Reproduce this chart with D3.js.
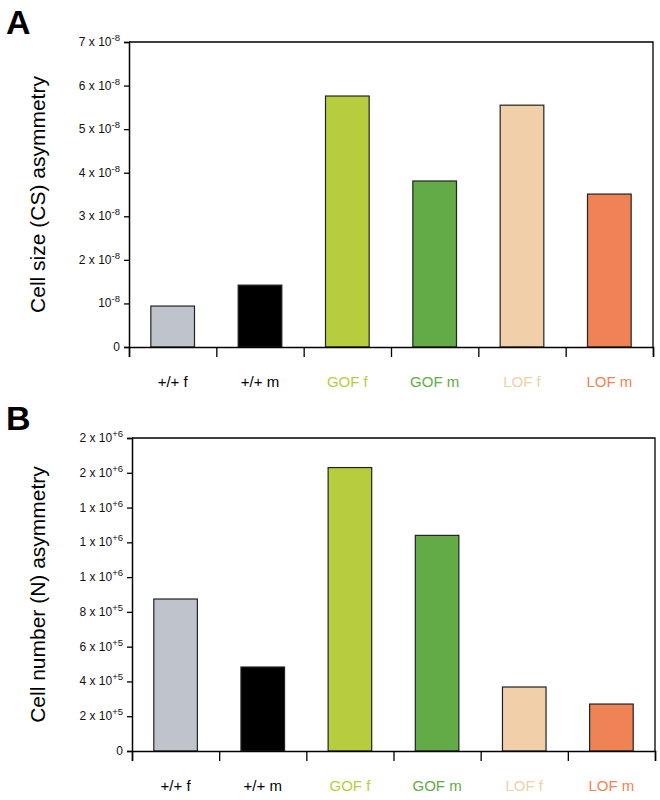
<!DOCTYPE html><html><head><meta charset="utf-8"><script src="https://cdn.jsdelivr.net/npm/d3@7"></script>
<style>body{margin:0;background:#fff;font-family:Arial,"Liberation Sans",sans-serif}</style></head><body><svg id="c" width="660" height="800"></svg>
<script>
const categories=["+/+ f","+/+ m","GOF f","GOF m","LOF f","LOF m"];
const colors=["#bfc4cc","#000000","#b8cd3e","#62ab47","#f1cfa8","#ef8355"];
const labelColors=["#000","#000","#b8cd3e","#62ab47","#f1cfa8","#ef8355"];
const valuesA=[0.94e-8,1.42e-8,5.76e-8,3.81e-8,5.55e-8,3.51e-8];
const ticksA=[0,1e-8,2e-8,3e-8,4e-8,5e-8,6e-8,7e-8];
const tickLabelsA=[["0",""],["10","-8"],["2 x 10","-8"],["3 x 10","-8"],["4 x 10","-8"],["5 x 10","-8"],["6 x 10","-8"],["7 x 10","-8"]];
const valuesB=[8.74e5,4.83e5,1.63e6,1.24e6,3.68e5,2.70e5];
const ticksB=[0,2e5,4e5,6e5,8e5,1e6,1.2e6,1.4e6,1.6e6,1.8e6];
const tickLabelsB=[["0",""],["2 x 10","+5"],["4 x 10","+5"],["6 x 10","+5"],["8 x 10","+5"],["1 x 10","+6"],["1 x 10","+6"],["1 x 10","+6"],["2 x 10","+6"],["2 x 10","+6"]];
const svg=d3.select("#c");
function panel(o){
  const x=d3.scaleBand().domain(categories).range([o.x0,o.x1]).paddingInner(0.5).paddingOuter(0.25);
  const y=d3.scaleLinear().domain([0,o.max]).range([o.y0,o.y1]);
  const g=svg.append("g");
  g.append("path").attr("d",`M${o.x0},${o.y1}H${o.x1}V${o.y0}`).attr("fill","none").attr("stroke","#000").attr("stroke-width",1.3);
  g.selectAll("rect").data(o.values).join("rect").attr("x",(d,i)=>x(categories[i])).attr("width",x.bandwidth())
   .attr("y",d=>y(d)).attr("height",d=>o.y0-y(d)).attr("fill",(d,i)=>colors[i]).attr("stroke","#222").attr("stroke-width",1.2);
  const ya=g.append("g").attr("transform",`translate(${o.x0},0)`).call(d3.axisLeft(y).tickValues(o.ticks).tickSize(5).tickFormat(""));
  ya.select(".domain").attr("stroke-width",1.5);ya.selectAll("line").attr("stroke-width",1.3);
  o.ticks.forEach((t,i)=>{const tx=g.append("text").attr("x",o.x0-9).attr("y",y(t)+4).attr("text-anchor","end").attr("font-size",12).attr("fill","#111");
    tx.append("tspan").text(o.labels[i][0]);
    if(o.labels[i][1]) tx.append("tspan").attr("dy",-5).attr("font-size",9.5).text(o.labels[i][1]);});
  const bt=d3.scaleLinear().domain([0,categories.length]).range([o.x0,o.x1]);
  const xa=g.append("g").attr("transform",`translate(0,${o.y0})`).call(d3.axisBottom(bt).ticks(6).tickSize(10).tickFormat(""));
  xa.select(".domain").attr("stroke-width",1.5);xa.selectAll("line").attr("stroke-width",1.3);
  g.selectAll(".cl").data(categories).join("text").attr("x",d=>x(d)+x.bandwidth()/2).attr("y",o.y0+40).attr("text-anchor","middle")
   .attr("font-size",15).attr("fill",(d,i)=>labelColors[i]).text(d=>d);
  g.append("text").attr("transform",`translate(${o.titleX},${(o.y0+o.y1)/2}) rotate(-90)`).attr("text-anchor","middle").attr("font-size",21).text(o.title);
  g.append("text").attr("x",6).attr("y",o.letterY).attr("font-size",34).attr("font-weight","bold").text(o.letter);
}
panel({x0:129,x1:653,y0:347,y1:42,max:7e-8,values:valuesA,ticks:ticksA,labels:tickLabelsA,title:"Cell size (CS) asymmetry",titleX:45,letter:"A",letterY:34});
panel({x0:132,x1:655,y0:751,y1:438,max:1.8e6,values:valuesB,ticks:ticksB,labels:tickLabelsB,title:"Cell number (N) asymmetry",titleX:45,letter:"B",letterY:430});
</script></body></html>
